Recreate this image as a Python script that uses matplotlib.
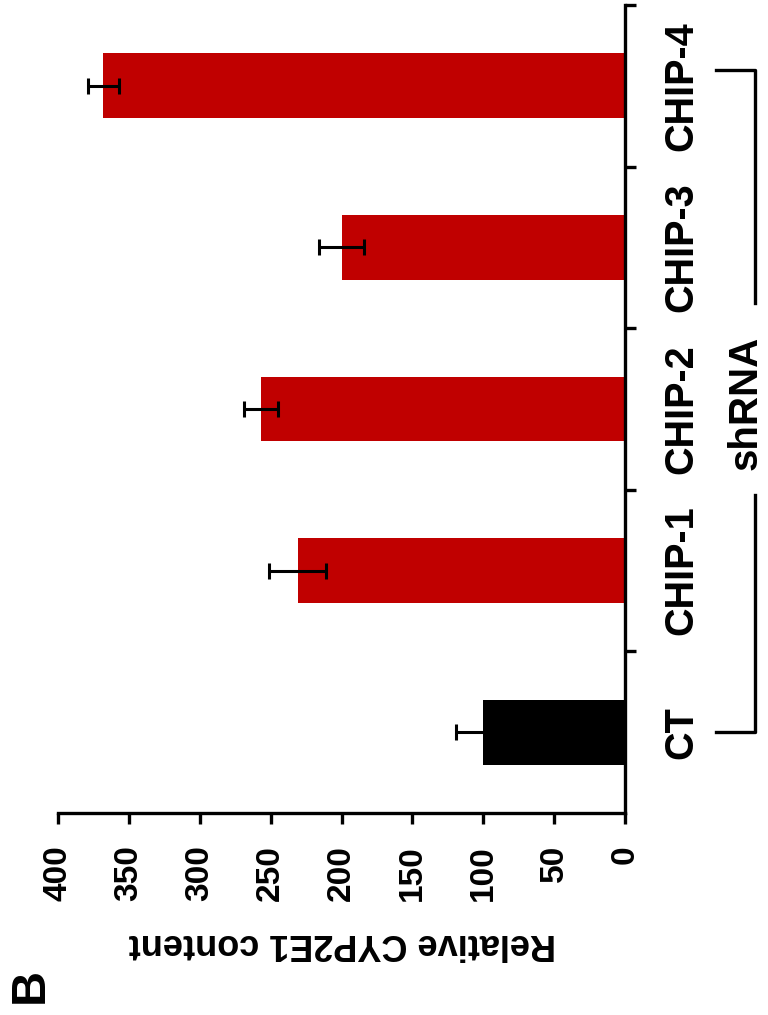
import matplotlib
matplotlib.use("Agg")
import matplotlib.pyplot as plt
import matplotlib.transforms as mtransforms
import numpy as np

plt.rcParams['font.family'] = ['Liberation Sans', 'DejaVu Sans']
plt.rcParams['font.weight'] = 'bold'

# data (CT at the bottom, CHIP-4 at the top)
groups = ['CT', 'CHIP-1', 'CHIP-2', 'CHIP-3', 'CHIP-4']
values = [100, 231, 257, 200, 368]
errors = [19, 20, 12, 16, 11]
colors = ['#000000', '#c00000', '#c00000', '#c00000', '#c00000']
value_ticks = [0, 50, 100, 150, 200, 250, 300, 350, 400]

fig = plt.figure(figsize=(7.68, 10.15), dpi=100)
ax = fig.add_axes([58 / 768, 1 - 813 / 1015, 567 / 768, 808 / 1015])

pos = np.arange(len(groups))
ax.barh(pos, values, height=0.4, color=colors, zorder=2)
ax.errorbar(values, pos, xerr=errors, fmt='none', ecolor='black',
            elinewidth=2.2, capsize=5.5, capthick=2.2, zorder=3)

ax.set_xlim(400, 0)
ax.set_ylim(-0.5, len(groups) - 0.5)

# value axis at the bottom, labels turned
ax.set_xticks(value_ticks)
ax.set_xticklabels([str(v) for v in value_ticks], rotation=90, fontsize=24,
                   fontweight='bold')
ax.tick_params(axis='x', direction='out', length=8, width=2.4, pad=15)

# category axis on the right
ax.yaxis.tick_right()
ax.set_yticks(pos)
ax.set_yticklabels(groups, rotation=90, fontsize=28.5, fontweight='bold',
                   va='center')
ax.set_yticks(np.arange(len(groups)) + 0.5, minor=True)
ax.tick_params(axis='y', which='major', length=0, pad=27)
ax.tick_params(axis='y', which='minor', direction='out', length=8, width=2.4)

for s in ['left', 'top']:
    ax.spines[s].set_visible(False)
for s in ['right', 'bottom']:
    ax.spines[s].set_linewidth(2.4)

# shRNA bracket
tr = mtransforms.blended_transform_factory(ax.transAxes, ax.transData)
bx, sx = 1.229, 1.160
ax.plot([sx, bx, bx], [4.1, 4.1, 2.656], color='black', lw=2.4,
        transform=tr, clip_on=False)
ax.plot([bx, bx, sx], [1.468, 0.0, 0.0], color='black', lw=2.4,
        transform=tr, clip_on=False)
ax.text(1.213, 2.04, 'shRNA', rotation=90, fontsize=29, fontweight='bold',
        ha='center', va='center', transform=tr)

fig.text(342 / 768, 1 - 944 / 1015, 'Relative CYP2E1 content', rotation=180,
         fontsize=26, fontweight='bold', ha='center', va='center')
fig.text(30 / 768, 1 - 985 / 1015, 'B', rotation=90, fontsize=35,
         fontweight='bold', ha='center', va='center')

fig.savefig('out.png', dpi=100)
